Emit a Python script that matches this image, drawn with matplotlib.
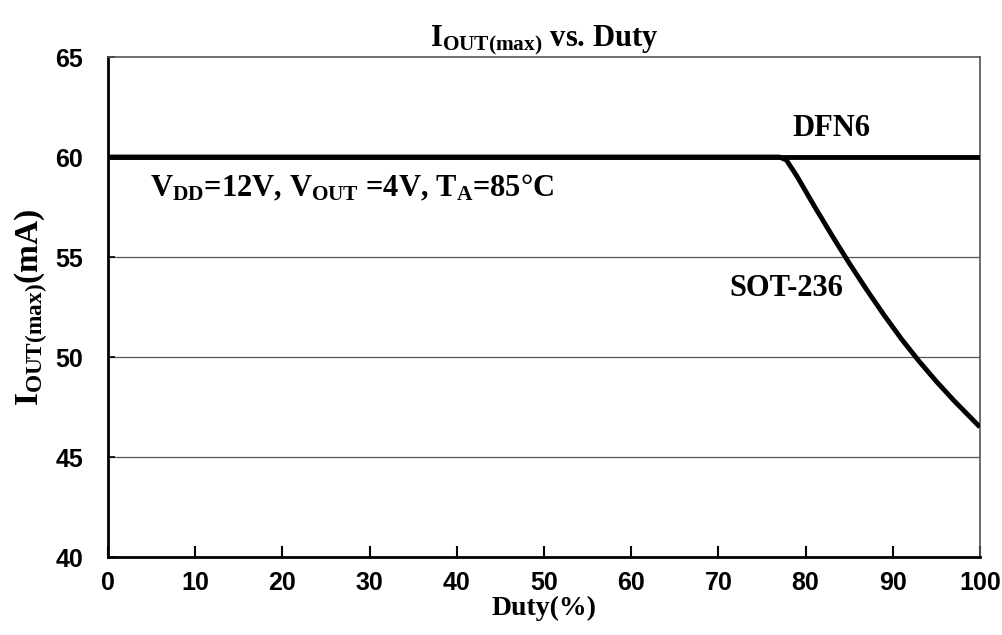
import matplotlib.pyplot as plt

# data
duty_dfn6 = [0, 100]
iout_dfn6 = [60, 60]

duty_sot = [0, 77.0, 77.8, 79.0, 81.0, 83.0, 85.0, 87.0, 89.0, 91.0, 93.0, 95.0, 97.0, 100]
iout_sot = [60, 60, 59.85, 59.05, 57.55, 56.1, 54.7, 53.37, 52.1, 50.9, 49.8, 48.78, 47.83, 46.5]

xticks = [0, 10, 20, 30, 40, 50, 60, 70, 80, 90, 100]
yticks = [40, 45, 50, 55, 60, 65]

plt.rcParams['mathtext.fontset'] = 'custom'
plt.rcParams['mathtext.rm'] = 'Liberation Serif:bold'
plt.rcParams['mathtext.it'] = 'Liberation Serif:bold'
plt.rcParams['mathtext.bf'] = 'Liberation Serif:bold'

serif = 'Liberation Serif'
sans = 'Liberation Sans'

fig = plt.figure(figsize=(10.03, 6.35), dpi=100)
ax = fig.add_axes([0.1077, 0.1228, 0.8693, 0.7874])

# grid
for y in [45, 50, 55, 60]:
    ax.axhline(y, color='#555555', lw=0.9, zorder=1)

ax.plot(duty_dfn6, iout_dfn6, color='black', lw=3.5, zorder=3, solid_capstyle='butt')
ax.plot(duty_sot, iout_sot, color='black', lw=3.5, zorder=3, solid_capstyle='butt',
        solid_joinstyle='round')

ax.set_xlim(0, 100)
ax.set_ylim(40, 65)
ax.set_xticks(xticks)
ax.set_yticks(yticks)
ax.set_xticklabels([str(t) for t in xticks], fontfamily=sans, fontweight='bold', fontsize=18)
ax.set_yticklabels([str(t) for t in yticks], fontfamily=sans, fontweight='bold', fontsize=18)
ax.tick_params(axis='x', direction='in', length=8, width=1.5, pad=10)
ax.tick_params(axis='y', direction='in', length=5, width=1.2, pad=18)

for s in ['left', 'bottom']:
    ax.spines[s].set_linewidth(2)
    ax.spines[s].set_color('black')
for s in ['top', 'right']:
    ax.spines[s].set_linewidth(1.2)
    ax.spines[s].set_color('#555555')

ax.set_title(r'I$_{\mathrm{OUT(max)}}$ vs. Duty', fontfamily=serif, fontweight='bold',
             fontsize=22, pad=6)
ax.set_xlabel('Duty(%)', fontfamily=serif, fontweight='bold', fontsize=20, labelpad=1)
ax.set_ylabel(r'I$_{\mathrm{OUT(max)}}$(mA)', fontfamily=serif, fontweight='bold',
              fontsize=24, labelpad=4)

ax.text(83.0, 61.45, 'DFN6', fontfamily=serif, fontweight='bold', fontsize=22,
        ha='center', va='center')
ax.text(77.8, 53.45, 'SOT-236', fontfamily=serif, fontweight='bold', fontsize=22,
        ha='center', va='center')
ax.text(4.8, 58.45, r'V$_{\mathrm{DD}}$=12V, V$_{\mathrm{OUT}}$ =4V, T$_{\mathrm{A}}$=85°C',
        fontfamily=serif, fontweight='bold', fontsize=22, ha='left', va='center')

fig.savefig('out.png', dpi=100)
